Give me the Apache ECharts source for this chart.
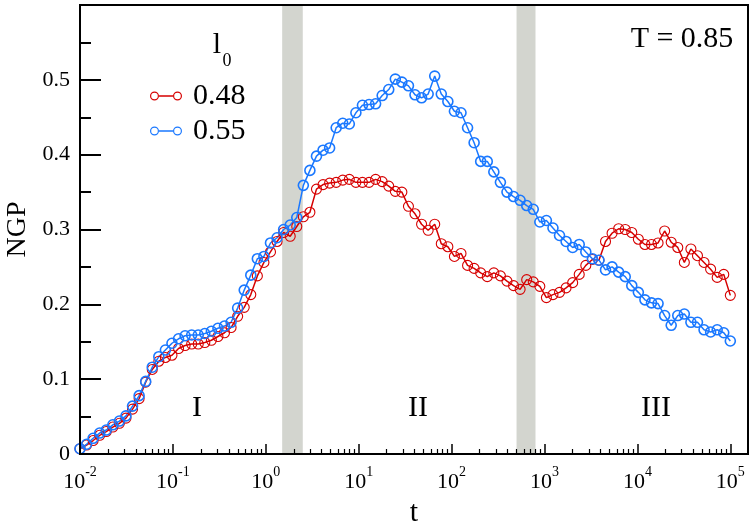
<!DOCTYPE html>
<html>
<head>
<meta charset="utf-8">
<script src="https://cdn.jsdelivr.net/npm/echarts@6/dist/echarts.min.js"></script>
<style>
html,body{margin:0;padding:0;background:#fff;}
#chart{width:755px;height:523px;}
</style>
</head>
<body>
<div id="chart"></div>
<script>
// sampling times t (log-spaced)
const t = [
  0.01, 0.01177, 0.01385, 0.0163, 0.01918, 0.02257, 0.02656, 0.03126, 0.03678, 0.04329,
  0.05094, 0.05995, 0.07055, 0.08302, 0.0977, 0.115, 0.1353, 0.1592, 0.1874, 0.2205,
  0.2595, 0.3054, 0.3594, 0.4229, 0.4977, 0.5857, 0.6892, 0.8111, 0.9545, 1.123,
  1.322, 1.556, 1.831, 2.154, 2.535, 2.983, 3.511, 4.132, 4.862, 5.722,
  6.733, 7.924, 9.325, 10.97, 12.92, 15.20, 17.89, 21.05, 24.77, 29.15,
  34.31, 40.37, 47.51, 55.91, 65.79, 77.43, 91.12, 107.2, 126.2, 148.5,
  174.7, 205.6, 242.0, 284.8, 335.2, 394.5, 464.2, 546.3, 642.9, 756.5,
  890.3, 1048, 1233, 1451, 1707, 2009, 2364, 2783, 3275, 3854,
  4535, 5337, 6281, 7391, 8698, 10235, 12045, 14175, 16681, 19630,
  23101, 27185, 31993, 37650, 44307, 52140, 61359, 72208, 84975, 100000
];
// NGP for l0 = 0.48 (red)
const ngp048 = [
  0.007, 0.012, 0.018, 0.025, 0.030, 0.036, 0.041, 0.048, 0.060, 0.074,
  0.096, 0.113, 0.124, 0.129, 0.132, 0.141, 0.145, 0.147, 0.147, 0.149,
  0.152, 0.157, 0.162, 0.169, 0.184, 0.196, 0.213, 0.238, 0.256, 0.270,
  0.284, 0.296, 0.291, 0.304, 0.317, 0.323, 0.354, 0.360, 0.362, 0.363,
  0.366, 0.367, 0.363, 0.363, 0.363, 0.367, 0.364, 0.358, 0.351, 0.350,
  0.331, 0.321, 0.307, 0.299, 0.307, 0.281, 0.277, 0.264, 0.268, 0.252,
  0.248, 0.242, 0.237, 0.242, 0.238, 0.231, 0.225, 0.220, 0.233, 0.230,
  0.224, 0.209, 0.213, 0.216, 0.222, 0.229, 0.240, 0.252, 0.260, 0.259,
  0.284, 0.295, 0.301, 0.300, 0.296, 0.287, 0.280, 0.280, 0.282, 0.298,
  0.283, 0.276, 0.256, 0.274, 0.265, 0.256, 0.247, 0.236, 0.240, 0.212
];
// NGP for l0 = 0.55 (blue)
const ngp055 = [
  0.007, 0.013, 0.021, 0.028, 0.032, 0.039, 0.044, 0.051, 0.064, 0.078,
  0.097, 0.116, 0.130, 0.139, 0.148, 0.154, 0.158, 0.159, 0.159, 0.161,
  0.164, 0.168, 0.171, 0.176, 0.195, 0.219, 0.239, 0.261, 0.264, 0.282,
  0.289, 0.300, 0.306, 0.316, 0.359, 0.379, 0.398, 0.406, 0.409, 0.436,
  0.442, 0.441, 0.456, 0.466, 0.467, 0.468, 0.479, 0.487, 0.501, 0.497,
  0.492, 0.480, 0.476, 0.481, 0.505, 0.481, 0.471, 0.458, 0.456, 0.436,
  0.416, 0.391, 0.391, 0.377, 0.363, 0.350, 0.344, 0.339, 0.332, 0.327,
  0.310, 0.312, 0.302, 0.292, 0.284, 0.276, 0.280, 0.270, 0.261, 0.259,
  0.246, 0.250, 0.243, 0.237, 0.225, 0.216, 0.206, 0.202, 0.201, 0.185,
  0.172, 0.185, 0.187, 0.176, 0.176, 0.166, 0.163, 0.166, 0.162, 0.151
];
const seriesNames = ['0.48', '0.55'];
const xMajorTicks = [1e-2, 1e-1, 1e0, 1e1, 1e2, 1e3, 1e4, 1e5];
const yTicks = [0, 0.1, 0.2, 0.3, 0.4, 0.5];
const regionBands = [[1.5, 2.5], [500, 800]];
const regionLabels = ['I', 'II', 'III'];
const titleText = 'T = 0.85';

const FONT = '"Liberation Serif", "Times New Roman", serif';
const RED = '#d60000';
const BLUE = '#1a78ff';
const BAND = '#d3d5cf';

const xMinorTicks = [];
for (let e = -2; e < 6; e++) {
  for (let m = 2; m <= 9; m++) xMinorTicks.push(+(m * Math.pow(10, e)).toPrecision(3));
}

const legendIcon = 'path://M0,4.5A4.5,4.5 0 1,0 9,4.5A4.5,4.5 0 1,0 0,4.5Z' +
  'M1.2,4.5A3.3,3.3 0 1,1 7.8,4.5A3.3,3.3 0 1,1 1.2,4.5Z' +
  'M23,4.5A4.5,4.5 0 1,0 32,4.5A4.5,4.5 0 1,0 23,4.5Z' +
  'M24.2,4.5A3.3,3.3 0 1,1 30.8,4.5A3.3,3.3 0 1,1 24.2,4.5Z' +
  'M9,3.8L23,3.8L23,5.2L9,5.2Z';

const chart = echarts.init(document.getElementById('chart'), null, { renderer: 'canvas' });

const XMIN = 0.01, XMAX = 155000;

chart.setOption({
  animation: false,
  backgroundColor: '#fff',
  grid: {
    left: 80, top: 5, right: 7, bottom: 69,
    show: true, borderColor: '#000', borderWidth: 2, backgroundColor: 'transparent',
    z: 3, outerBoundsMode: 'none', containLabel: false
  },
  legend: {
    orient: 'vertical', left: 145, top: 76,
    itemWidth: 32, itemHeight: 9, itemGap: 5,
    icon: legendIcon,
    itemStyle: { borderWidth: 0 },
    textStyle: { fontFamily: FONT, fontSize: 30, color: '#000', lineHeight: 28, padding: [0, 0, 0, 6] },
    data: [
      { name: seriesNames[0], itemStyle: { color: RED } },
      { name: seriesNames[1], itemStyle: { color: BLUE } }
    ],
    selectedMode: false
  },
  xAxis: [
    {
      type: 'log', logBase: 10, min: XMIN, max: XMAX, position: 'bottom', z: 4,
      name: 't', nameLocation: 'middle', nameGap: 37,
      nameTextStyle: { fontFamily: FONT, fontSize: 30, color: '#000', lineHeight: 30 },
      axisLine: { show: true, lineStyle: { color: '#000', width: 2 } },
      axisTick: { show: true, inside: true, length: 10, lineStyle: { color: '#000', width: 1.5 }, customValues: xMajorTicks },
      minorTick: { show: false },
      splitLine: { show: false },
      axisLabel: {
        show: true, margin: 11, customValues: xMajorTicks,
        formatter: function (v) {
          const e = Math.round(Math.log10(v));
          return '{b|10}{s|' + e + '}';
        },
        rich: {
          b: { fontFamily: FONT, fontSize: 22, color: '#000', lineHeight: 28, verticalAlign: 'bottom' },
          s: { fontFamily: FONT, fontSize: 14, color: '#000', lineHeight: 14, verticalAlign: 'top' }
        }
      }
    },
    {
      type: 'log', logBase: 10, min: XMIN, max: XMAX, position: 'bottom', z: 4, gridIndex: 0,
      axisLine: { show: false },
      axisTick: { show: true, inside: true, length: 5, lineStyle: { color: '#000', width: 1.2 }, customValues: xMinorTicks },
      axisLabel: { show: false },
      splitLine: { show: false }
    }
  ],
  yAxis: {
    type: 'value', min: 0, max: 0.6, interval: 0.1, z: 4,
    name: 'NGP', nameLocation: 'middle', nameGap: 47, nameRotate: 90,
    nameTextStyle: { fontFamily: FONT, fontSize: 28, color: '#000' },
    axisLine: { show: true, lineStyle: { color: '#000', width: 2 } },
    axisTick: { show: true, inside: true, length: 21, lineStyle: { color: '#000', width: 2 } },
    minorTick: { show: true, splitNumber: 2, length: 11, lineStyle: { color: '#000', width: 2 } },
    splitLine: { show: false },
    minorSplitLine: { show: false },
    axisLabel: {
      margin: 10, fontFamily: FONT, fontSize: 22, color: '#000',
      formatter: function (v) {
        const r = Math.round(v * 10) / 10;
        return yTicks.indexOf(r) >= 0 ? String(r) : '';
      }
    }
  },
  series: [
    {
      name: seriesNames[0], type: 'line', xAxisIndex: 0,
      data: t.map((v, i) => [v, ngp048[i]]),
      symbol: 'circle', symbolSize: 10, showSymbol: true,
      lineStyle: { color: RED, width: 1.5 },
      itemStyle: { color: 'rgba(0,0,0,0)', borderColor: RED, borderWidth: 1.1 },
      markArea: {
        silent: true,
        itemStyle: { color: BAND },
        data: regionBands.map(b => [{ xAxis: b[0] }, { xAxis: b[1] }])
      },
      z: 2
    },
    {
      name: seriesNames[1], type: 'line', xAxisIndex: 0,
      data: t.map((v, i) => [v, ngp055[i]]),
      symbol: 'circle', symbolSize: 10, showSymbol: true,
      lineStyle: { color: BLUE, width: 1.5 },
      itemStyle: { color: 'rgba(0,0,0,0)', borderColor: BLUE, borderWidth: 1.6 },
      z: 2
    }
  ],
  graphic: [
    { type: 'text', x: 682, y: 39, z: 10, style: { text: titleText, font: '30px ' + FONT, fill: '#000', align: 'center', verticalAlign: 'middle' } },
    { type: 'text', x: 217, y: 45, z: 10, style: { text: 'l', font: '30px ' + FONT, fill: '#000', align: 'center', verticalAlign: 'middle' } },
    { type: 'text', x: 227, y: 61, z: 10, style: { text: '0', font: '18px ' + FONT, fill: '#000', align: 'center', verticalAlign: 'middle' } },
    { type: 'text', x: 197, y: 408, z: 10, style: { text: regionLabels[0], font: '30px ' + FONT, fill: '#000', align: 'center', verticalAlign: 'middle' } },
    { type: 'text', x: 418, y: 408, z: 10, style: { text: regionLabels[1], font: '30px ' + FONT, fill: '#000', align: 'center', verticalAlign: 'middle' } },
    { type: 'text', x: 656, y: 408, z: 10, style: { text: regionLabels[2], font: '30px ' + FONT, fill: '#000', align: 'center', verticalAlign: 'middle' } }
  ]
});
</script>
</body>
</html>
